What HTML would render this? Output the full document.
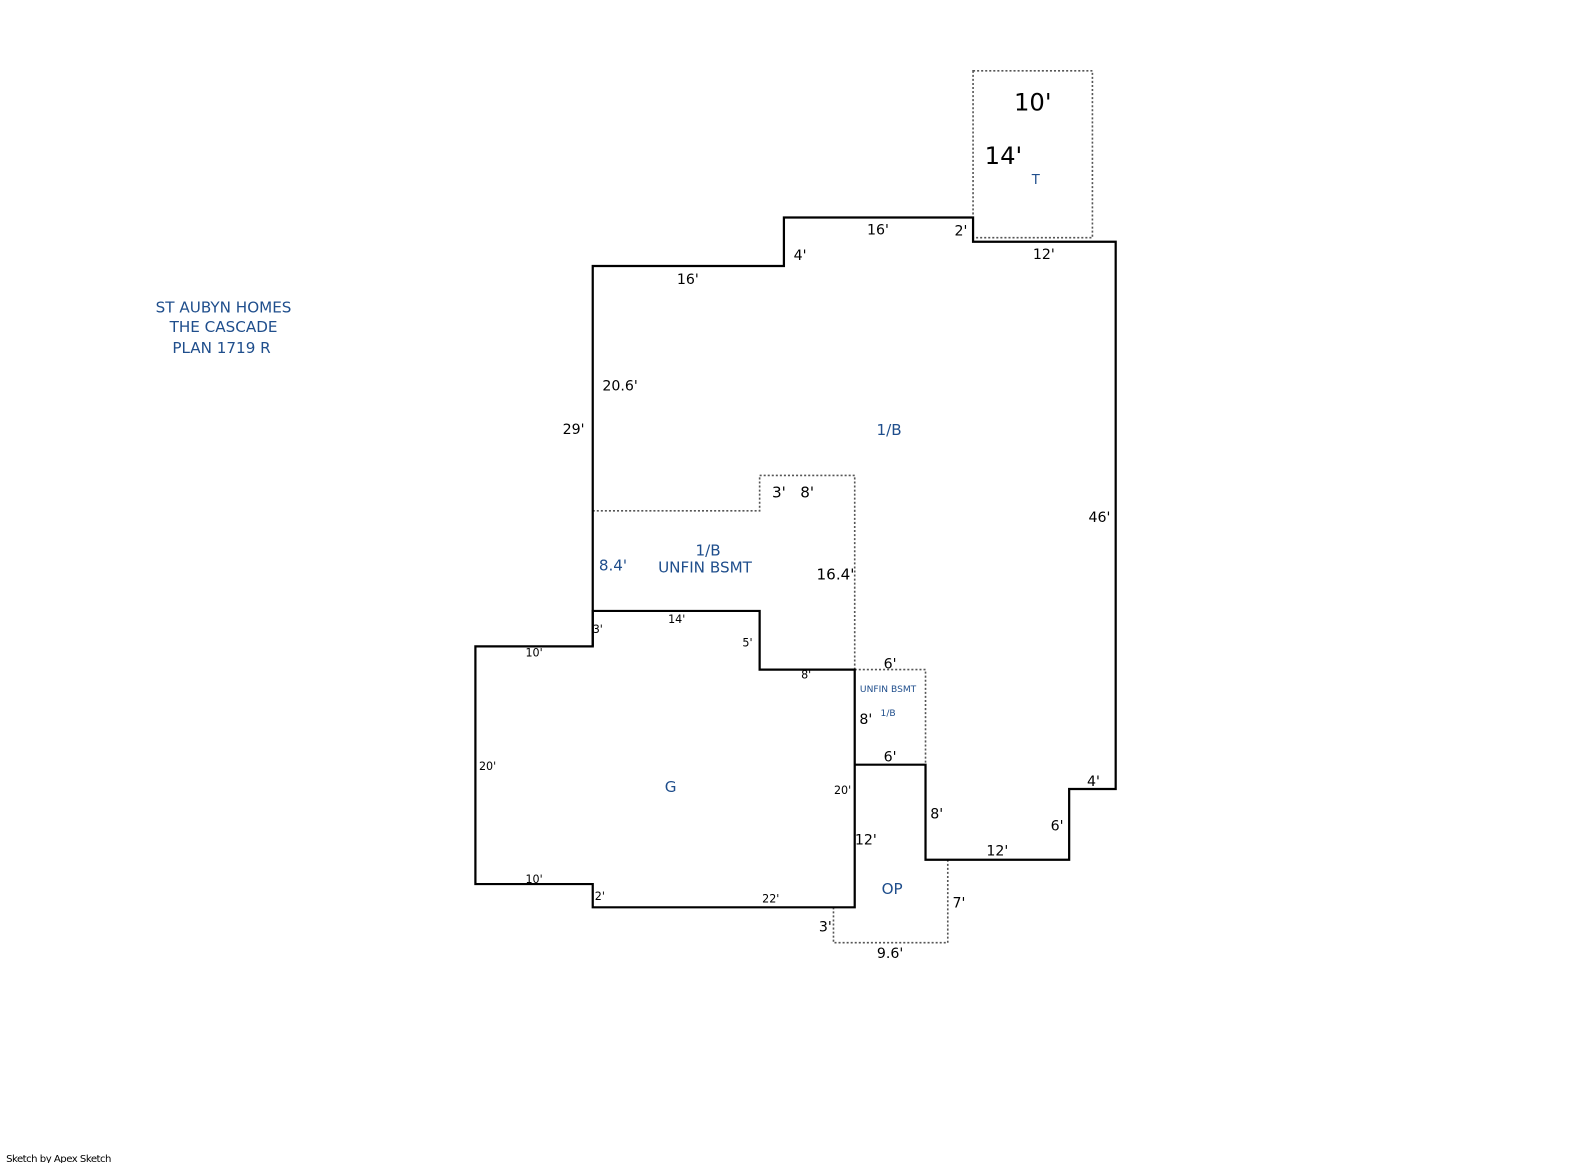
<!DOCTYPE html>
<html><head><meta charset="utf-8"><style>
html,body{margin:0;padding:0;background:#fff;}
svg{display:block;}
text{font-family:"DejaVu Sans","Liberation Sans",sans-serif;}
</style></head><body>
<svg width="1585" height="1163" viewBox="0 0 1585 1163" xmlns="http://www.w3.org/2000/svg">
<rect width="1585" height="1163" fill="#fff"/>
<g transform="scale(1.0115)">
<g fill="none" stroke="#555" stroke-width="1.6" stroke-dasharray="2,2">
<rect x="962" y="70" width="118" height="165"/>
<polyline points="586,505 751,505 751,470 845,470 845,662"/>
<polyline points="845,662 915,662 915,756"/>
<polyline points="824,897 824,932 937,932 937,850"/>
</g>
<g fill="none" stroke="#000" stroke-width="2.2">
<polyline points="586,639 586,263 775,263 775,215 962,215 962,239 1103,239 1103,780 1057,780 1057,850 915,850 915,756 845,756"/>
<polygon points="586,604 751,604 751,662 845,662 845,897 586,897 586,874 470,874 470,639 586,639"/>
</g>
<g fill="#1f4e8c" font-size="15" text-anchor="middle">
<text x="221" y="309">ST AUBYN HOMES</text>
<text x="221" y="328">THE CASCADE</text>
<text x="219" y="349">PLAN 1719 R</text>
<text x="879" y="430">1/B</text>
<text x="700" y="549">1/B</text>
<text x="697" y="566">UNFIN BSMT</text>
<text x="606" y="564">8.4'</text>
<text x="663" y="783">G</text>
<text x="882" y="884">OP</text>
<text x="1024" y="182" font-size="13">T</text>
<text x="878" y="684" font-size="9">UNFIN BSMT</text>
<text x="878" y="708" font-size="9">1/B</text>
</g>
<g fill="#000" font-size="14" text-anchor="middle">
<text x="1021" y="109" font-size="24">10'</text>
<text x="992" y="162" font-size="24">14'</text>
<text x="868" y="232">16'</text>
<text x="950" y="233">2'</text>
<text x="1032" y="256">12'</text>
<text x="791" y="257">4'</text>
<text x="680" y="281">16'</text>
<text x="613" y="386">20.6'</text>
<text x="567" y="429">29'</text>
<text x="1087" y="516">46'</text>
<text x="770" y="492" font-size="15">3'</text>
<text x="798" y="492" font-size="15">8'</text>
<text x="826" y="573" font-size="15">16.4'</text>
<text x="880" y="661">6'</text>
<text x="856" y="716">8'</text>
<text x="880" y="753">6'</text>
<text x="926" y="809">8'</text>
<text x="986" y="846">12'</text>
<text x="1045" y="821">6'</text>
<text x="1081" y="777">4'</text>
<text x="856" y="835">12'</text>
<text x="948" y="897">7'</text>
<text x="816" y="921">3'</text>
<text x="880" y="947">9.6'</text>
</g>
<g fill="#000" font-size="11" text-anchor="middle">
<text x="669" y="616">14'</text>
<text x="591" y="626">3'</text>
<text x="528" y="649">10'</text>
<text x="739" y="639">5'</text>
<text x="797" y="671">8'</text>
<text x="482" y="761">20'</text>
<text x="833" y="785">20'</text>
<text x="528" y="873">10'</text>
<text x="593" y="890">2'</text>
<text x="762" y="892">22'</text>
</g>
<text x="6" y="1149" font-size="10" fill="#000" font-family="Liberation Sans, sans-serif" letter-spacing="-0.5">Sketch by Apex Sketch</text>
</g>
</svg>
</body></html>
